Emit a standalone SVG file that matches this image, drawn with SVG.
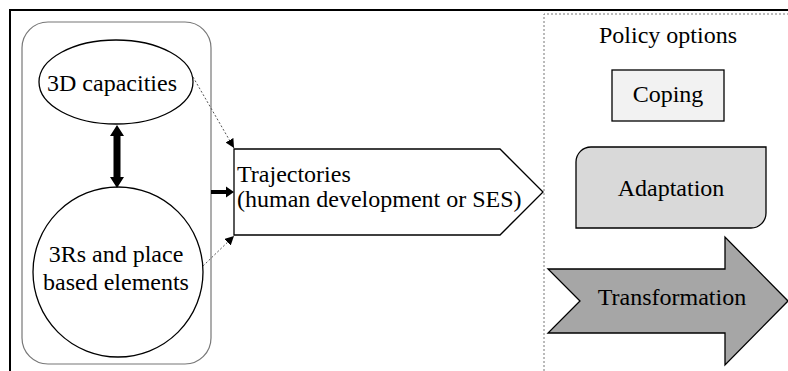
<svg xmlns="http://www.w3.org/2000/svg" width="788" height="371" viewBox="0 0 788 371">
  <defs>
    <style>
      .c { text-anchor: middle; }
      .shape { stroke: #000; stroke-width: 1.3; }
      .dots { fill: none; stroke: #555; stroke-width: 1; stroke-dasharray: 2 2; }
    </style>
    <marker id="tri" viewBox="0 0 10 10" refX="10" refY="5" markerWidth="9" markerHeight="9" markerUnits="userSpaceOnUse" orient="auto">
      <path d="M0,0 L10,5 L0,10 Z" fill="#000"/>
    </marker>
  </defs>

  <rect width="788" height="371" fill="#fff"/>

  <!-- outer frame -->
  <path d="M10,371 V10 H788" fill="none" stroke="#000" stroke-width="2"/>
  <!-- policy panel boundary -->
  <path d="M544,371 V14 H788" fill="none" stroke="#777" stroke-width="1" stroke-dasharray="2 2"/>

  <!-- container for the two capacity nodes -->
  <rect id="capacity-panel" x="22" y="22" width="189" height="342" rx="26" fill="none" stroke="#777" stroke-width="1.2"/>

  <g id="capacities">
    <ellipse cx="116" cy="82" rx="77" ry="42" fill="#fff" class="shape"/>
    <text x="112" y="91" class="c" style="font-family:'Liberation Serif',serif;font-size:24px">3D capacities</text>
  </g>

  <g id="place-elements">
    <circle cx="118" cy="272" r="85" fill="#fff" class="shape"/>
    <text x="116" y="262" class="c" style="font-family:'Liberation Serif',serif;font-size:24px">3Rs and place</text>
    <text x="116" y="290" class="c" style="font-family:'Liberation Serif',serif;font-size:24px">based elements</text>
  </g>

  <g id="trajectories">
    <path d="M234,149 H500 L543,192 L500,235 H234 Z" fill="#fff" class="shape"/>
    <text x="237" y="182" style="font-family:'Liberation Serif',serif;font-size:24px">Trajectories</text>
    <text x="237" y="207" style="font-family:'Liberation Serif',serif;font-size:24px">(human development or SES)</text>
  </g>

  <g id="policy-title">
    <text x="668" y="43" class="c" style="font-family:'Liberation Serif',serif;font-size:24px">Policy options</text>
  </g>

  <g id="coping">
    <rect x="612" y="70" width="112" height="51" fill="#f2f2f2" class="shape"/>
    <text x="668" y="102" class="c" style="font-family:'Liberation Serif',serif;font-size:24px">Coping</text>
  </g>

  <g id="adaptation">
    <path d="M591,147 H766 V213 A15,15 0 0 1 751,228 H576 V162 A15,15 0 0 1 591,147 Z" fill="#d9d9d9" class="shape"/>
    <text x="671" y="196" class="c" style="font-family:'Liberation Serif',serif;font-size:24px">Adaptation</text>
  </g>

  <g id="transformation">
    <path d="M548,269 H725 V237 L788,301 L725,365 V333 H548 L580,301 Z" fill="#a6a6a6" class="shape"/>
    <text x="672" y="305" class="c" style="font-family:'Liberation Serif',serif;font-size:24px">Transformation</text>
  </g>

  <g id="connectors">
    <!-- two-way link between the capacity nodes -->
    <path d="M117,125 L124,136 H120.5 V177 H124 L117,188 L110,177 H113.5 V136 H110 Z" fill="#000"/>
    <!-- panel to trajectories -->
    <path d="M211,190 H226 V186.5 L234,192 L226,197.5 V194 H211 Z" fill="#000"/>
    <!-- dotted influence lines -->
    <path d="M193,77 L234,148" class="dots" marker-end="url(#tri)"/>
    <path d="M203,266 L234,236" class="dots" marker-end="url(#tri)"/>
  </g>
</svg>
